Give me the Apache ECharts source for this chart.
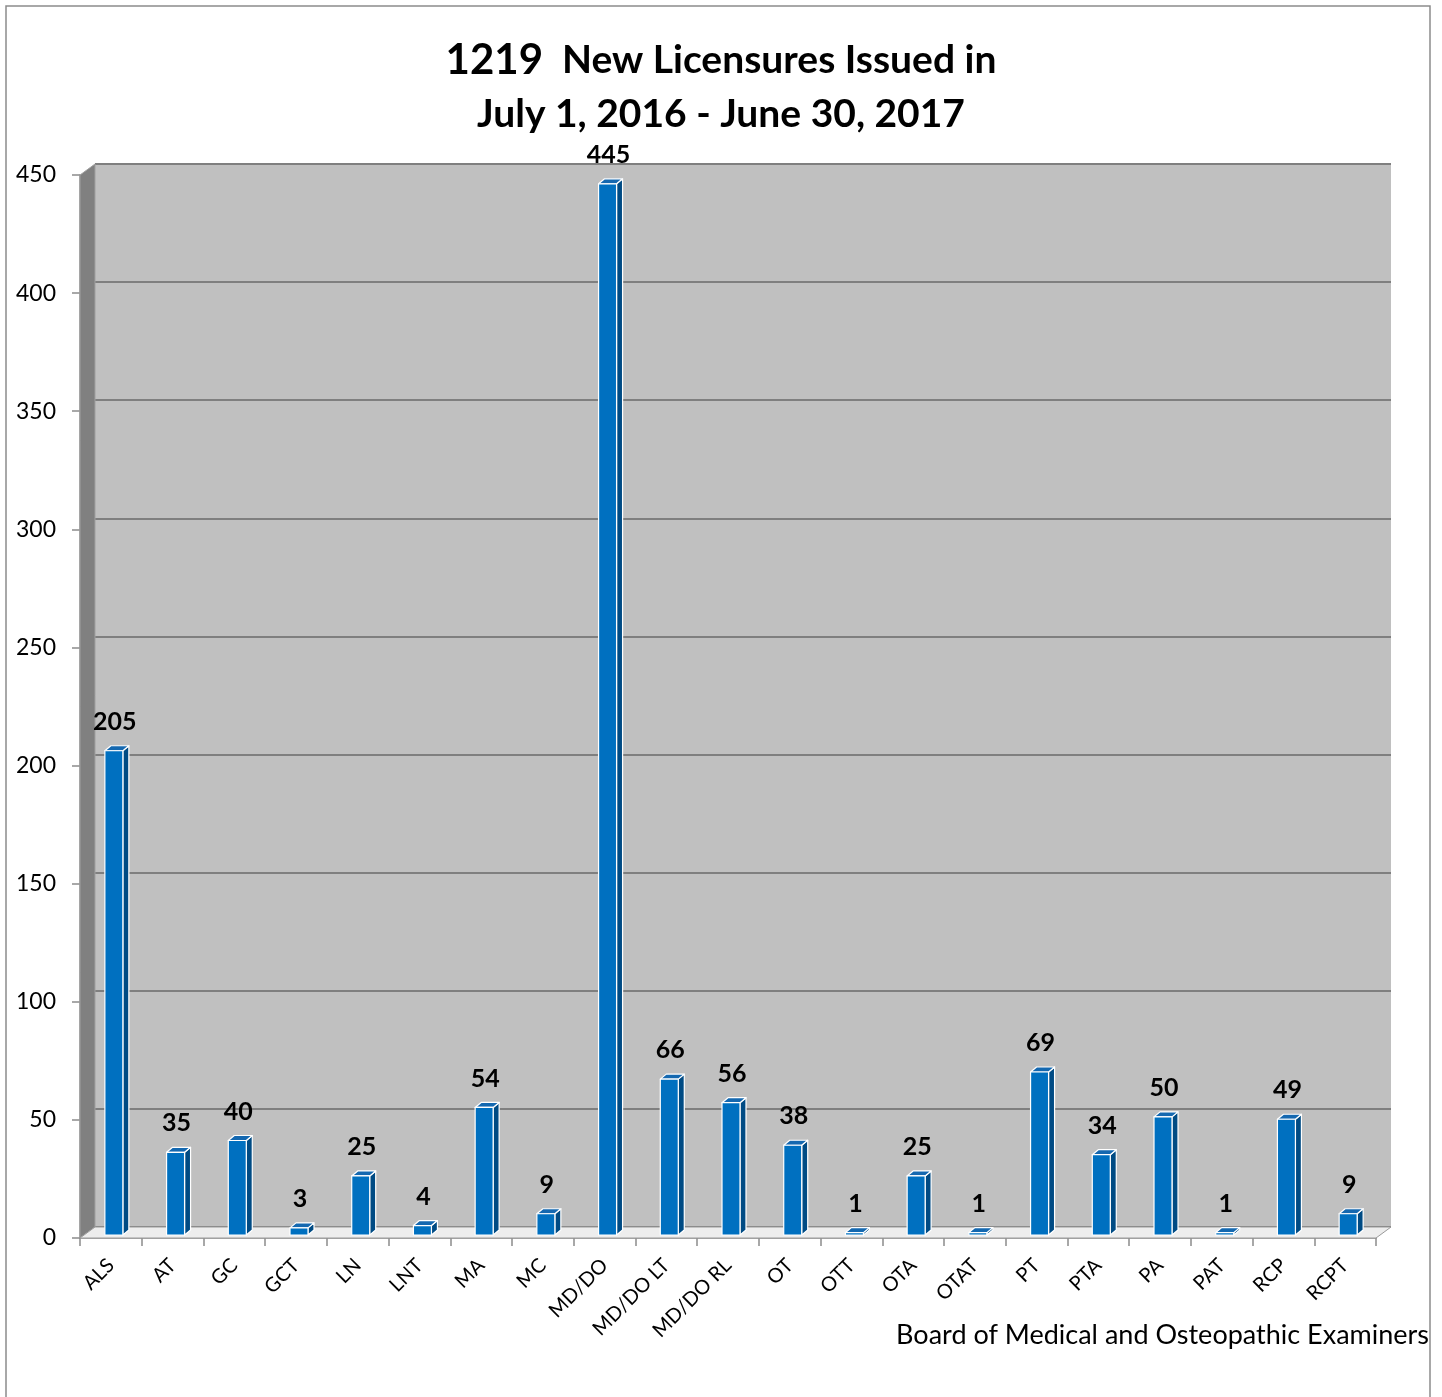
<!DOCTYPE html>
<html>
<head>
<meta charset="utf-8">
<script src="https://cdn.jsdelivr.net/npm/echarts@6/dist/echarts.min.js"></script>
<style>
html,body{margin:0;padding:0;background:#fff;}
#chart{width:1442px;height:1397px;}
</style>
</head>
<body>
<div id="chart"></div>
<script>
const categories = ['ALS','AT','GC','GCT','LN','LNT','MA','MC','MD/DO','MD/DO LT','MD/DO RL','OT','OTT','OTA','OTAT','PT','PTA','PA','PAT','RCP','RCPT'];
const values = [205,35,40,3,25,4,54,9,445,66,56,38,1,25,1,69,34,50,1,49,9];
const yTicks = [0,50,100,150,200,250,300,350,400,450];
const titleTotal = '1219';
const titleLine1 = 'New Licensures Issued in';
const titleLine2 = 'July 1, 2016 - June 30, 2017';
const footer = 'Board of Medical and Osteopathic Examiners';

const FONT = 'Lato';
const DX = 15, DY = 11; // wall depth
const chart = echarts.init(document.getElementById('chart'));

const option = {
  backgroundColor: '#ffffff',
  animation: false,
  title: {
    text: '{a|' + titleTotal + '}{b|  ' + titleLine1 + '}\n{b|' + titleLine2 + '}',
    left: 'center',
    top: 28,
    textStyle: {
      rich: {
        a: {fontFamily: FONT, fontWeight: 'bold', fontSize: 42, color: '#000', lineHeight: 54},
        b: {fontFamily: FONT, fontWeight: 'bold', fontSize: 39, color: '#000', lineHeight: 54}
      }
    }
  },
  graphic: [
    {type: 'rect', shape: {x: 6, y: 6, width: 1424, height: 1410}, style: {fill: 'none', stroke: '#8c8c8c', lineWidth: 1.5}, silent: true, z: 0},
    {type: 'text', right: 13, top: 1322, style: {text: footer, font: '27px ' + FONT, fill: '#000'}}
  ],
  grid: [
    {left: 95, right: 51, top: 164, bottom: 170, show: true, backgroundColor: '#c0c0c0', borderWidth: 0},
    {left: 80, right: 66, top: 175, bottom: 159}
  ],
  xAxis: [
    {gridIndex: 0, type: 'category', data: categories, show: false},
    {gridIndex: 1, type: 'category', data: categories,
      axisLine: {show: true, lineStyle: {color: '#8c8c8c', width: 1.5}},
      axisTick: {show: true, length: 8, lineStyle: {color: '#8c8c8c', width: 1.5}},
      axisLabel: {rotate: 45, margin: 24, fontFamily: FONT, fontSize: 20, color: '#000', interval: 0},
      splitLine: {show: false}}
  ],
  yAxis: [
    {gridIndex: 0, type: 'value', min: 0, max: 450, interval: 50,
      axisLine: {show: false}, axisTick: {show: false}, axisLabel: {show: false},
      splitLine: {show: true, lineStyle: {color: '#7f7f7f', width: 2}}},
    {gridIndex: 1, type: 'value', min: 0, max: 450, interval: 50,
      axisLine: {show: true, lineStyle: {color: '#8c8c8c', width: 1.5}},
      axisTick: {show: true, length: 8, lineStyle: {color: '#8c8c8c', width: 1.5}},
      axisLabel: {margin: 24, fontFamily: FONT, fontSize: 23, color: '#000',
        formatter: function (v) { return yTicks.indexOf(v) >= 0 ? String(v) : ''; }},
      splitLine: {show: false}}
  ],
  series: [
    {
      type: 'custom', xAxisIndex: 1, yAxisIndex: 1, z: 1, silent: true,
      data: [[0, 0]],
      renderItem: function (params, api) {
        const cs = params.coordSys;
        const x0 = cs.x, x1 = cs.x + cs.width, yT = cs.y, yB = cs.y + cs.height;
        return {type: 'group', children: [
          {type: 'polygon', shape: {points: [[x0, yT], [x0 + DX, yT - DY], [x0 + DX, yB - DY], [x0, yB]]},
            style: {fill: '#808080', stroke: '#a0a0a0', lineWidth: 1}},
          {type: 'polygon', shape: {points: [[x0, yB], [x0 + DX, yB - DY], [x1 + DX, yB - DY], [x1, yB]]},
            style: {fill: '#ededed', stroke: '#9a9a9a', lineWidth: 1}}
        ]};
      }
    },
    {
      type: 'custom', xAxisIndex: 1, yAxisIndex: 1, z: 3,
      encode: {x: 0, y: 1},
      data: values.map(function (v, i) { return [i, v]; }),
      renderItem: function (params, api) {
        const i = api.value(0), v = api.value(1);
        const p = api.coord([i, v]);
        const p0 = api.coord([i, 0]);
        const w = 18, dx = 6, dy = -5;
        const cx = p[0] + 3;
        const xl = cx - w / 2, xr = cx + w / 2;
        const yt = p[1] - 3, yb = p0[1] - 3;
        const st = {stroke: '#ffffff', lineWidth: 1.2, lineJoin: 'round'};
        return {type: 'group', children: [
          {type: 'polygon', shape: {points: [[xr, yt], [xr + dx, yt + dy], [xr + dx, yb + dy], [xr, yb]]},
            style: Object.assign({fill: '#004b84'}, st)},
          {type: 'polygon', shape: {points: [[xl, yt], [xl + dx, yt + dy], [xr + dx, yt + dy], [xr, yt]]},
            style: Object.assign({fill: '#1468b0'}, st)},
          {type: 'rect', shape: {x: xl, y: yt, width: w, height: yb - yt},
            style: Object.assign({fill: '#0070c0'}, st)},
          {type: 'text', style: {text: String(v), x: cx + 1, y: yt - 29, textAlign: 'center', textVerticalAlign: 'middle',
            font: 'bold 25px ' + FONT, fill: '#000'}}
        ]};
      }
    }
  ]
};
chart.setOption(option);
</script>
</body>
</html>
